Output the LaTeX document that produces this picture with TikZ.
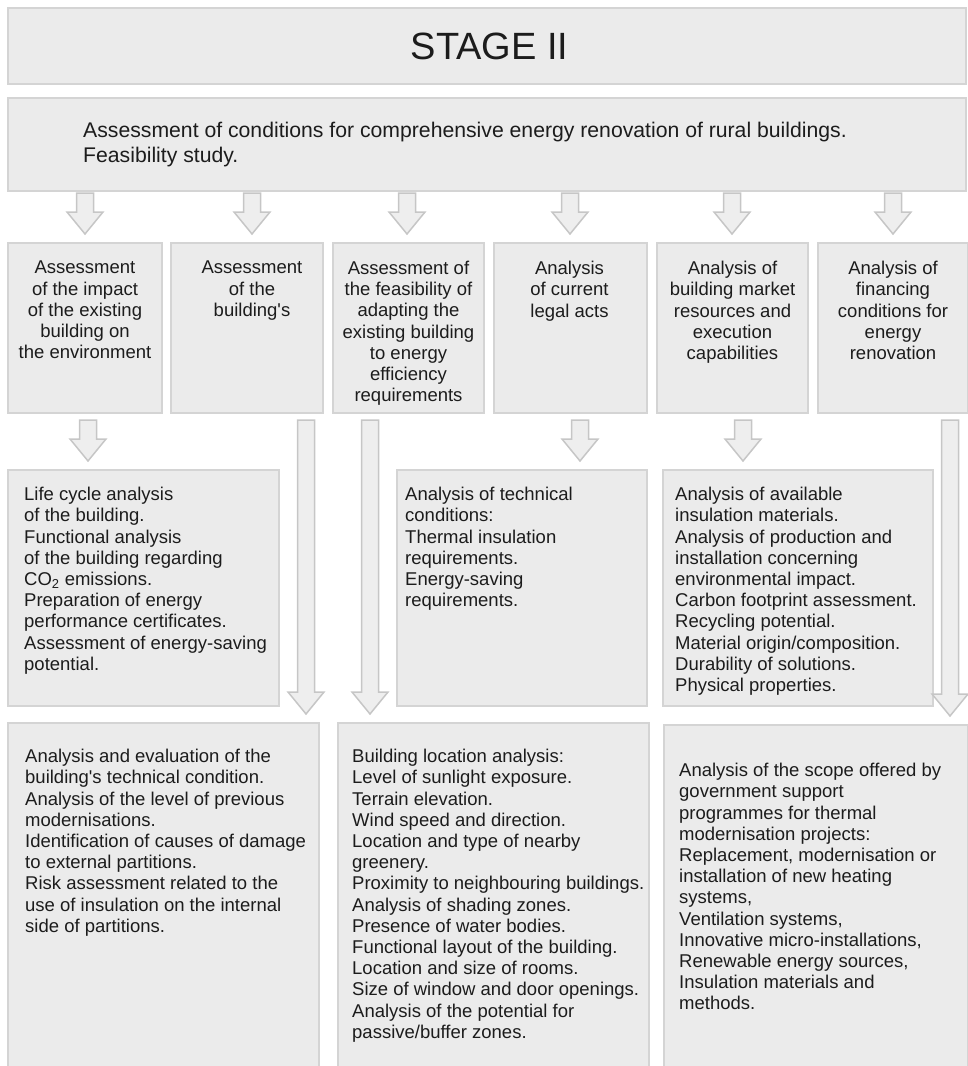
\documentclass[tikz,border=0pt]{standalone}
\usepackage{fontspec}
\setmainfont{Liberation Sans}
\usetikzlibrary{calc}

\definecolor{panelfill}{HTML}{EBEBEB}
\definecolor{paneldraw}{HTML}{D4D4D4}
\definecolor{arrowfill}{HTML}{EEEEEE}
\definecolor{arrowdraw}{HTML}{C6C6C6}
\definecolor{ink}{HTML}{1C1C1C}

\tikzset{
  panel/.style={draw=paneldraw, fill=panelfill, line width=2pt, anchor=north west, inner sep=0pt},
  body/.style={inner sep=0pt, text=ink, font=\fontsize{18.5}{21.2}\selectfont},
  colhead/.style={body, anchor=north, align=center},
  listtext/.style={body, anchor=north west, align=left},
  flowarrow/.style={draw=arrowdraw, fill=arrowfill, line width=1.5pt, line join=miter}
}

% hollow block arrow from a tail coordinate down to the top of a node
\newcommand{\blockarrow}[2]{%
  \coordinate (tip) at (#1 |- #2.north);
  \draw[flowarrow] ($(#1)+(-8.5,0)$) -- ($(tip)+(-8.5,-30)$) -- ($(tip)+(-18,-30)$)
    -- ($(tip)+(0,-8)$) -- ($(tip)+(18,-30)$) -- ($(tip)+(8.5,-30)$) -- ($(#1)+(8.5,0)$) -- cycle;}

\begin{document}
\begin{tikzpicture}[x=1pt, y=-1pt]
  \useasboundingbox (0,0) rectangle (968,1066);
  \clip (0,0) rectangle (968,1066);

  % stage header
  \node[panel, minimum width=958, minimum height=76] (stage) at (7,7) {};
  \node[anchor=base, inner sep=0pt, text=ink, font=\fontsize{38}{42}\selectfont] (stagetxt) at (489.5,59) {STAGE II};
  \node[panel, minimum width=958, minimum height=93] (feas) at (7,97) {};
  \node[body, anchor=north west, align=left, font=\fontsize{21.2}{25}\selectfont] (feastxt) at ($(feas.north west)+(76,25)$)
    {Assessment of conditions for comprehensive energy renovation of rural buildings.\\Feasibility study.};

  % columns
  \node[panel, minimum width=154, minimum height=170] (c1) at (7,242) {};
  \node[panel, minimum width=152, minimum height=170] (c2) at (170,242) {};
  \node[panel, minimum width=151, minimum height=170] (c3) at (332,242) {};
  \node[panel, minimum width=153, minimum height=170] (c4) at (493,242) {};
  \node[panel, minimum width=151, minimum height=170] (c5) at (656,242) {};
  \node[panel, minimum width=150, minimum height=170] (c6) at (817,242) {};
  \node[colhead] (c1t) at ($(c1.north)+(0,19)$) {Assessment\\of the impact\\of the existing\\building on\\the environment};
  \node[colhead] (c2t) at ($(c2.north)+(5,19)$) {Assessment\\of the\\building\textquotesingle s};
  \node[colhead] (c3t) at ($(c3.north)+(0,19)$) {Assessment of\\the feasibility of\\adapting the\\existing building\\to energy\\efficiency\\requirements};
  \node[colhead] (c4t) at ($(c4.north)+(-1,19)$) {Analysis\\of current\\legal acts};
  \node[colhead] (c5t) at ($(c5.north)+(0,19)$) {Analysis of\\building market\\resources and\\execution\\capabilities};
  \node[colhead] (c6t) at ($(c6.north)+(0,19)$) {Analysis of\\financing\\conditions for\\energy\\renovation};

  % third row
  \node[panel, minimum width=271, minimum height=236] (lca) at (7,469) {};
  \node[panel, minimum width=250, minimum height=236] (tech) at (396,469) {};
  \node[panel, minimum width=270, minimum height=236] (mat) at (662,469) {};
  \node[listtext] (lcat) at ($(lca.north west)+(17,18)$)
    {Life cycle analysis\\of the building.\\Functional analysis\\of the building regarding\\CO\textsubscript{2} emissions.\\Preparation of energy\\performance certificates.\\Assessment of energy-saving\\potential.};
  \node[listtext] (techt) at ($(tech.north west)+(9,18)$)
    {Analysis of technical\\conditions:\\Thermal insulation\\requirements.\\Energy-saving\\requirements.};
  \node[listtext] (matt) at ($(mat.north west)+(13,18)$)
    {Analysis of available\\insulation materials.\\Analysis of production and\\installation concerning\\environmental impact.\\Carbon footprint assessment.\\Recycling potential.\\Material origin/composition.\\Durability of solutions.\\Physical properties.};

  % bottom row
  \node[panel, minimum width=311, minimum height=360] (cond) at (7,722) {};
  \node[panel, minimum width=311, minimum height=360] (site) at (337,722) {};
  \node[panel, minimum width=304, minimum height=360] (fund) at (663,724) {};
  \node[listtext] (condt) at ($(cond.north west)+(18,27)$)
    {Analysis and evaluation of the\\building\textquotesingle s technical condition.\\Analysis of the level of previous\\modernisations.\\Identification of causes of damage\\to external partitions.\\Risk assessment related to the\\use of insulation on the internal\\side of partitions.};
  \node[listtext] (sitet) at ($(site.north west)+(15,27)$)
    {Building location analysis:\\Level of sunlight exposure.\\Terrain elevation.\\Wind speed and direction.\\Location and type of nearby\\greenery.\\Proximity to neighbouring buildings.\\Analysis of shading zones.\\Presence of water bodies.\\Functional layout of the building.\\Location and size of rooms.\\Size of window and door openings.\\Analysis of the potential for\\passive/buffer zones.};
  \node[listtext] (fundt) at ($(fund.north west)+(16,39)$)
    {Analysis of the scope offered by\\government support\\programmes for thermal\\modernisation projects:\\Replacement, modernisation or\\installation of new heating\\systems,\\Ventilation systems,\\Innovative micro-installations,\\Renewable energy sources,\\Insulation materials and\\methods.};

  % arrow tails
  \coordinate (s1) at (85,193);
  \coordinate (s2) at (252,193);
  \coordinate (s3) at (407,193);
  \coordinate (s4) at (570,193);
  \coordinate (s5) at (732,193);
  \coordinate (s6) at (893,193);
  \coordinate (d1) at (88,420);
  \coordinate (d2) at (306,420);
  \coordinate (d3) at (370,420);
  \coordinate (d4) at (580,420);
  \coordinate (d5) at (743,420);
  \coordinate (d6) at (950,420);

  \blockarrow{s1}{c1}
  \blockarrow{s2}{c2}
  \blockarrow{s3}{c3}
  \blockarrow{s4}{c4}
  \blockarrow{s5}{c5}
  \blockarrow{s6}{c6}
  \blockarrow{d1}{lca}
  \blockarrow{d2}{cond}
  \blockarrow{d3}{site}
  \blockarrow{d4}{tech}
  \blockarrow{d5}{mat}
  \blockarrow{d6}{fund}
\end{tikzpicture}
\end{document}
